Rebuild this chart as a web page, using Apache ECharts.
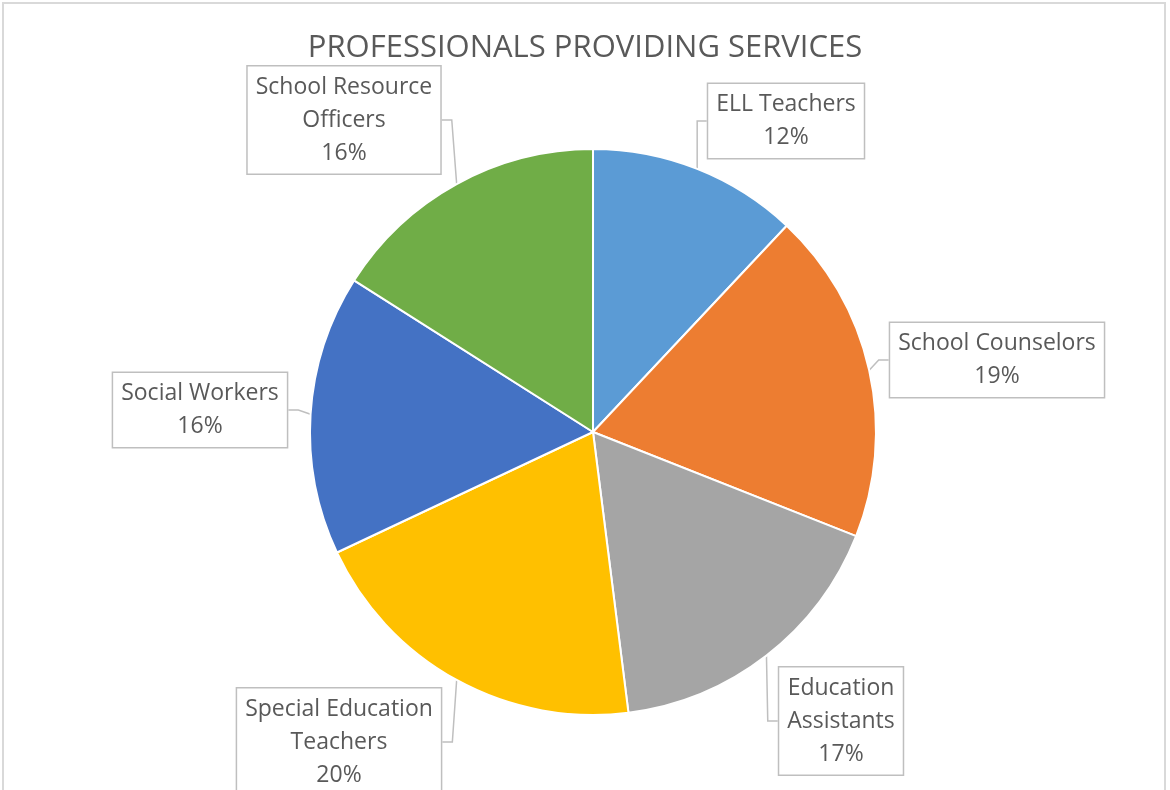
<!DOCTYPE html>
<html><head><meta charset="utf-8">
<script src="https://cdn.jsdelivr.net/npm/echarts@6/dist/echarts.min.js"></script>
<style>
html,body{margin:0;padding:0;background:#fff;}
#frame{position:absolute;left:2px;top:2px;width:1164px;height:800px;border:2px solid #d9d9d9;box-sizing:border-box;}
#chart{position:absolute;left:0;top:0;width:1170px;height:790px;}
</style>
</head><body>
<div id="frame"></div>
<div id="chart"></div>
<script>
const title = 'PROFESSIONALS PROVIDING SERVICES';
const categories = ['ELL Teachers','School Counselors','Education Assistants','Special Education Teachers','Social Workers','School Resource Officers'];
const labelLines = ['ELL Teachers','School Counselors','Education\nAssistants','Special Education\nTeachers','Social Workers','School Resource\nOfficers'];
const values = [12,19,17,20,16,16];
const colors = ['#5b9bd5','#ed7d31','#a5a5a5','#ffc000','#4472c4','#70ad47'];
// label box centres (layout only)
const labelPos = [[786,121],[997,360],[841,721],[339,742],[200,410],[344,120]];

const chart = echarts.init(document.getElementById('chart'));
chart.setOption({
  animation:false,
  backgroundColor:'transparent',
  title:{text:title,left:'center',top:28,textStyle:{fontFamily:'Open Sans',fontWeight:'normal',fontSize:31,color:'#595959'}},
  series:[{
    type:'pie',
    center:[593,432],
    radius:283,
    startAngle:90,
    clockwise:true,
    percentPrecision:0,
    itemStyle:{borderColor:'#fff',borderWidth:2},
    data:categories.map((c,i)=>({name:c,value:values[i],itemStyle:{color:colors[i]}})),
    label:{
      show:true,
      formatter:p=>labelLines[p.dataIndex]+'\n'+p.percent+'%',
      fontFamily:'Open Sans',fontSize:23,color:'#595959',lineHeight:33,
      align:'center',
      backgroundColor:'#fff',borderColor:'#bfbfbf',borderWidth:1.5,
      padding:[4,8,4,8]
    },
    labelLine:{show:true,lineStyle:{color:'#bfbfbf',width:1.5},length:10,length2:10},
    labelLayout:function(p){
      const pos = labelPos[p.dataIndex];
      return {x:pos[0],y:pos[1],align:'center',verticalAlign:'middle'};
    }
  }]
});
</script>
</body></html>
